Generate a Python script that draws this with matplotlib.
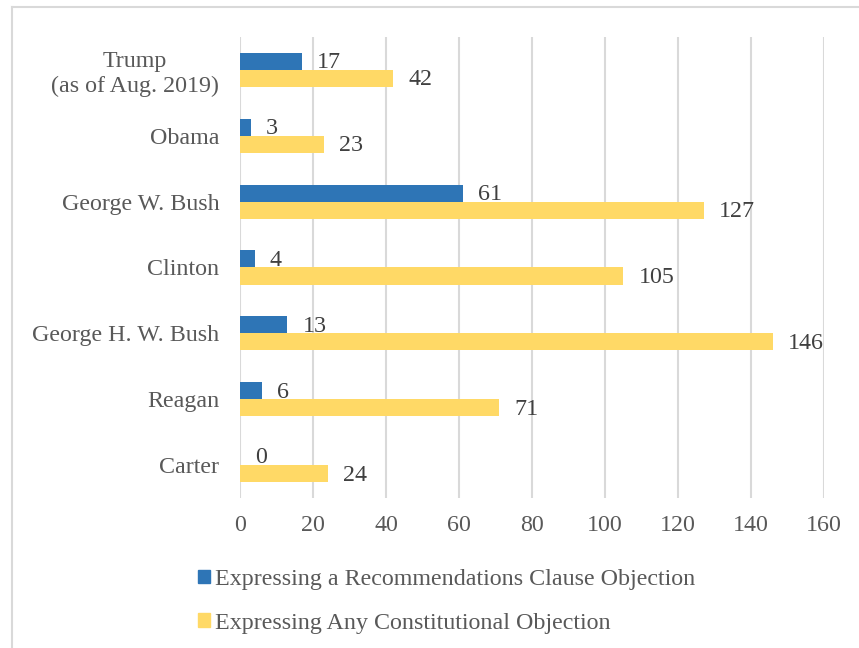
import matplotlib.pyplot as plt
from matplotlib.patches import Patch
from matplotlib.lines import Line2D

# data, top to bottom
presidents = ['Trump\n(as of Aug. 2019)', 'Obama', 'George W. Bush', 'Clinton',
              'George H. W. Bush', 'Reagan', 'Carter']
recommendations = [17, 3, 61, 4, 13, 6, 0]
any_constitutional = [42, 23, 127, 105, 146, 71, 24]
xticks = [0, 20, 40, 60, 80, 100, 120, 140, 160]

blue = '#2E75B6'
yellow = '#FFD966'
text_grey = '#595959'
grid_grey = '#D9D9D9'

plt.rcParams['font.family'] = ['Liberation Serif', 'DejaVu Serif']
plt.rcParams['font.size'] = 17.3

fig = plt.figure(figsize=(8.59, 6.48), dpi=100)
ax = fig.add_axes([0.2794, 0.2315, 0.68, 0.7114])

pos = list(range(len(presidents)))
h = 0.26
ax.barh([p - h / 2 for p in pos], recommendations, height=h, color=blue, zorder=3)
ax.barh([p + h / 2 for p in pos], any_constitutional, height=h, color=yellow, zorder=3)

# value labels
for p, v in zip(pos, recommendations):
    ax.annotate(str(v), (v, p - h / 2), xytext=(11, -1), textcoords='offset points',
                va='center', ha='left', color='#404040')
for p, v in zip(pos, any_constitutional):
    ax.annotate(str(v), (v, p + h / 2), xytext=(11, -1), textcoords='offset points',
                va='center', ha='left', color='#404040')

ax.set_xlim(0, 160)
ax.set_ylim(len(presidents) - 0.5, -0.5)
ax.set_xticks(xticks)
ax.set_yticks(pos)
ax.set_yticklabels(presidents, multialignment='center')
ax.tick_params(length=0, colors=text_grey, labelsize=17.3)
ax.tick_params(axis='y', pad=15)
ax.tick_params(axis='x', pad=12)
ax.xaxis.grid(True, color=grid_grey, lw=1.5, zorder=0)
for s in ax.spines.values():
    s.set_visible(False)

# legend
handles = [Patch(color=blue), Patch(color=yellow)]
labels = ['Expressing a Recommendations Clause Objection',
          'Expressing Any Constitutional Objection']
leg = fig.legend(handles, labels, loc='upper left', bbox_to_anchor=(0.2305, 0.122),
                 frameon=False, handlelength=0.5, handleheight=0.5,
                 handletextpad=0.2, labelspacing=0.95, borderaxespad=0,
                 borderpad=0, labelcolor=text_grey)

# chart frame (only left and top edges visible in the crop)
fig.add_artist(Line2D([0.014, 0.014], [0, 0.989], color=grid_grey, lw=1.5,
                      transform=fig.transFigure))
fig.add_artist(Line2D([0.014, 1], [0.989, 0.989], color=grid_grey, lw=1.5,
                      transform=fig.transFigure))

fig.savefig('out.png', dpi=100)
